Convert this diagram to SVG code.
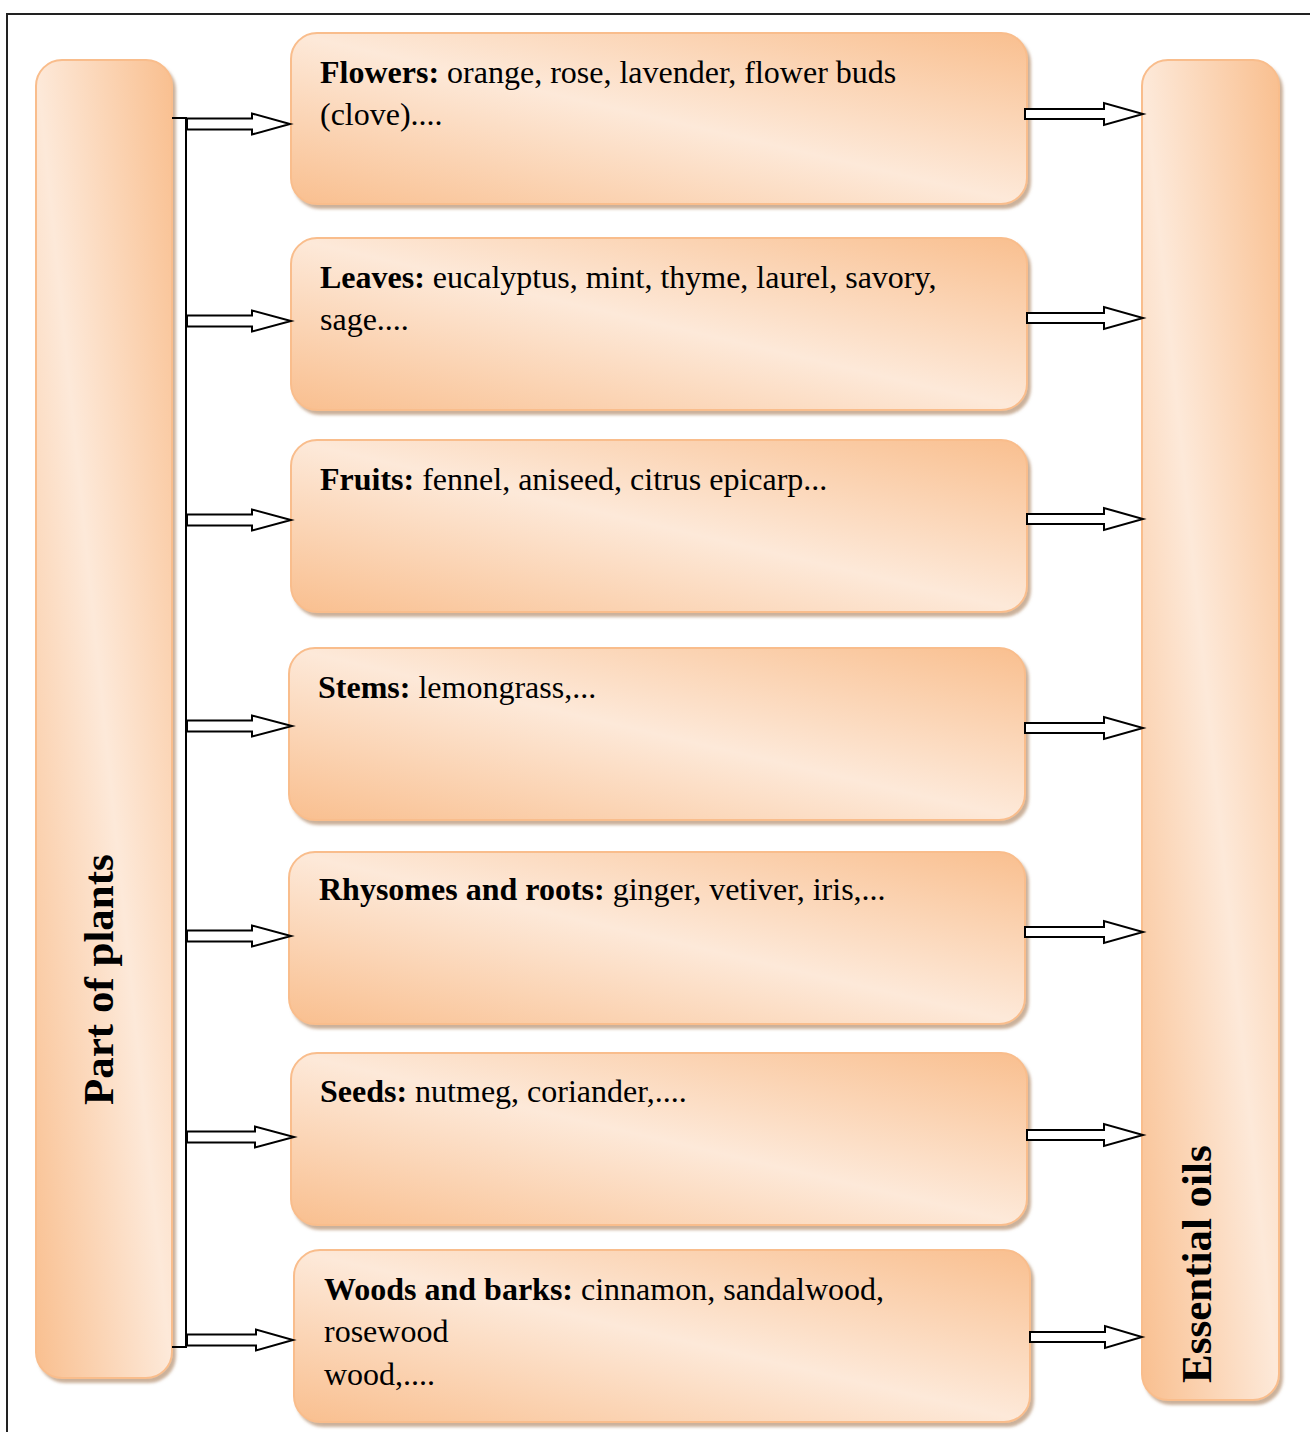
<svg xmlns="http://www.w3.org/2000/svg" width="1310" height="1432" viewBox="0 0 1310 1432">
<defs>
<linearGradient id="g" x1="0" y1="1" x2="1" y2="0">
<stop offset="0" stop-color="#f9bf8f"/>
<stop offset="0.5" stop-color="#fde9d9"/>
<stop offset="1" stop-color="#f9bf8f"/>
</linearGradient>
<filter id="sh" x="-5%" y="-5%" width="115%" height="115%">
<feDropShadow dx="3" dy="4" stdDeviation="1.5" flood-color="#a0704a" flood-opacity="0.55"/>
</filter>
</defs>
<style>
.box{fill:url(#g);stroke:#f9bd8c;stroke-width:2;filter:url(#sh)}
.t{font-family:"Liberation Serif","Times New Roman",serif;font-size:32px;fill:#000}
.b{font-weight:bold}
.big{font-family:"Liberation Serif","Times New Roman",serif;font-size:43px;font-weight:bold;fill:#000}
.arr{fill:#fff;stroke:#000;stroke-width:2;stroke-linejoin:miter}
.ln{fill:none;stroke:#000;stroke-width:2}
</style>
<rect x="7" y="14" width="1320" height="1440" fill="none" stroke="#222" stroke-width="2"/>

<g id="part-of-plants">
<rect class="box" x="36" y="60" width="136" height="1318" rx="26"/>
<text class="big" transform="translate(113,1105) rotate(-90)">Part of plants</text>
</g>

<g id="essential-oils">
<rect class="box" x="1142" y="60" width="137" height="1340" rx="26"/>
<text class="big" transform="translate(1211,1383) rotate(-90)">Essential oils</text>
</g>

<g id="flowers">
<rect class="box" x="291" y="33" width="736" height="171" rx="26"/>
<text class="t" x="320" y="83"><tspan class="b">Flowers:</tspan> orange, rose, lavender, flower buds</text>
<text class="t" x="320" y="125">(clove)....</text>
</g>
<g id="leaves">
<rect class="box" x="291" y="238" width="736" height="172" rx="26"/>
<text class="t" x="320" y="288"><tspan class="b">Leaves:</tspan> eucalyptus, mint, thyme, laurel, savory,</text>
<text class="t" x="320" y="330">sage....</text>
</g>
<g id="fruits">
<rect class="box" x="291" y="440" width="736" height="172" rx="26"/>
<text class="t" x="320" y="490"><tspan class="b">Fruits:</tspan> fennel, aniseed, citrus epicarp...</text>
</g>
<g id="stems">
<rect class="box" x="289" y="648" width="736" height="172" rx="26"/>
<text class="t" x="318" y="698"><tspan class="b">Stems:</tspan> lemongrass,...</text>
</g>
<g id="rhysomes">
<rect class="box" x="289" y="852" width="736" height="172" rx="26"/>
<text class="t" x="319" y="900"><tspan class="b">Rhysomes and roots:</tspan> ginger, vetiver, iris,...</text>
</g>
<g id="seeds">
<rect class="box" x="291" y="1053" width="736" height="172" rx="26"/>
<text class="t" x="320" y="1102"><tspan class="b">Seeds:</tspan> nutmeg, coriander,....</text>
</g>
<g id="woods">
<rect class="box" x="294" y="1250" width="736" height="172" rx="26"/>
<text class="t" x="324" y="1300"><tspan class="b">Woods and barks:</tspan> cinnamon, sandalwood,</text>
<text class="t" x="324" y="1342">rosewood</text>
<text class="t" x="324" y="1385">wood,....</text>
</g>

<g id="connectors">
<path class="ln" d="M172,118 H186 V1347 H172"/>
<path class="arr" d="M187,118.5 H252 V113.5 L290,124 L252,134.5 V129.5 H187 Z"/>
<path class="arr" d="M187,315.5 H252 V310.5 L291,321 L252,331.5 V326.5 H187 Z"/>
<path class="arr" d="M187,514.5 H252 V509.5 L291,520 L252,530.5 V525.5 H187 Z"/>
<path class="arr" d="M187,720.5 H252 V715.5 L292,726 L252,736.5 V731.5 H187 Z"/>
<path class="arr" d="M187,930.5 H252 V925.5 L291,936 L252,946.5 V941.5 H187 Z"/>
<path class="arr" d="M187,1131.5 H255 V1126.5 L294,1137 L255,1147.5 V1142.5 H187 Z"/>
<path class="arr" d="M187,1334.5 H256 V1329.5 L293,1340 L256,1350.5 V1345.5 H187 Z"/>

<path class="arr" d="M1025,109 H1104 V103 L1143,114 L1104,125 V119 H1025 Z"/>
<path class="arr" d="M1027,313 H1104 V307 L1143,318 L1104,329 V323 H1027 Z"/>
<path class="arr" d="M1027,514 H1104 V508 L1143,519 L1104,530 V524 H1027 Z"/>
<path class="arr" d="M1025,723 H1104 V717 L1143,728 L1104,739 V733 H1025 Z"/>
<path class="arr" d="M1025,927 H1104 V921 L1143,932 L1104,943 V937 H1025 Z"/>
<path class="arr" d="M1027,1130 H1104 V1124 L1143,1135 L1104,1146 V1140 H1027 Z"/>
<path class="arr" d="M1030,1332 H1105 V1326 L1142,1337 L1105,1348 V1342 H1030 Z"/>
</g>
</svg>
